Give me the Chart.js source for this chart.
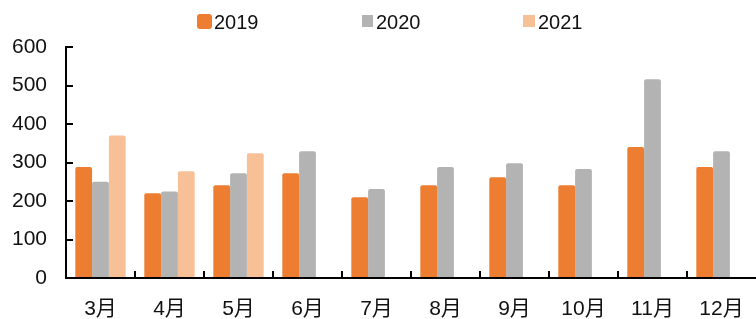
<!DOCTYPE html>
<html>
<head>
<meta charset="utf-8">
<script src="https://cdn.jsdelivr.net/npm/chart.js@4/dist/chart.umd.min.js"></script>
<style>
  html, body { margin: 0; padding: 0; background: #fff; }
  #wrap { width: 756px; height: 319px; position: relative; }
</style>
</head>
<body>
<div id="wrap"><canvas id="c" width="756" height="319"></canvas></div>
<script>
const categories = ['3月', '4月', '5月', '6月', '7月', '8月', '9月', '10月', '11月', '12月'];
const seriesNames = ['2019', '2020', '2021'];
const values2019 = [288, 220, 241, 272, 210, 241, 262, 241, 340, 288];
const values2020 = [250, 225, 272, 329, 231, 288, 298, 283, 516, 329];
const values2021 = [370, 277, 324, null, null, null, null, null, null, null];
const yTicks = [0, 100, 200, 300, 400, 500, 600];

const colors = ['#ED7D31', '#B3B3B3', '#F8C096'];
const FONT = '"Liberation Sans", Arial, "Noto Sans CJK SC", sans-serif';

const axesAndTicks = {
  id: 'axesAndTicks',
  afterDraw(chart) {
    const ctx = chart.ctx, a = chart.chartArea;
    const xs = chart.scales.x, ys = chart.scales.y;
    ctx.save();
    ctx.strokeStyle = '#000';
    ctx.lineWidth = 2;
    ctx.lineCap = 'butt';
    ctx.beginPath();
    const left = Math.round(a.left);
    const bottom = Math.round(a.bottom);
    const top = Math.round(ys.getPixelForValue(600));
    // y axis line
    ctx.moveTo(left, top - 1);
    ctx.lineTo(left, bottom + 1);
    // x axis line
    ctx.moveTo(left - 1, bottom);
    ctx.lineTo(Math.round(a.right), bottom);
    // y ticks (inside)
    yTicks.forEach(v => {
      if (v === 0) return;
      const y = Math.round(ys.getPixelForValue(v));
      ctx.moveTo(left, y);
      ctx.lineTo(left + 7, y);
    });
    // x ticks (inside) at category boundaries
    for (let i = 1; i < categories.length; i++) {
      const x = Math.round((xs.getPixelForValue(i - 1) + xs.getPixelForValue(i)) / 2);
      ctx.moveTo(x, bottom);
      ctx.lineTo(x, bottom - 7);
    }
    ctx.stroke();
    ctx.restore();
  }
};

const customLegend = {
  id: 'customLegend',
  afterDraw(chart, args, opts) {
    const ctx = chart.ctx;
    ctx.save();
    ctx.font = '20px ' + FONT;
    ctx.textBaseline = 'alphabetic';
    chart.data.datasets.forEach((ds, i) => {
      const b = opts.boxes[i];
      ctx.fillStyle = ds.backgroundColor;
      ctx.beginPath();
      if (ctx.roundRect) ctx.roundRect(b.x, b.y, b.w, b.h, b.r); else ctx.rect(b.x, b.y, b.w, b.h);
      ctx.fill();
      ctx.fillStyle = '#111';
      ctx.fillText(ds.label, b.tx, 28.5);
    });
    ctx.restore();
  }
};

new Chart(document.getElementById('c'), {
  type: 'bar',
  data: {
    labels: categories,
    datasets: [
      { label: seriesNames[0], data: values2019, backgroundColor: colors[0] },
      { label: seriesNames[1], data: values2020, backgroundColor: colors[1] },
      { label: seriesNames[2], data: values2021, backgroundColor: colors[2] }
    ]
  },
  options: {
    responsive: false,
    animation: false,
    devicePixelRatio: 1,
    layout: { padding: { top: 47, left: 0, right: 0, bottom: 0 } },
    datasets: { bar: { categoryPercentage: 0.73, barPercentage: 1.0, borderRadius: { topLeft: 2, topRight: 2 }, borderSkipped: 'bottom' } },
    plugins: {
      legend: { display: false },
      tooltip: { enabled: false },
      customLegend: {
        boxes: [
          { x: 197, y: 14, w: 15, h: 15, r: 3, tx: 214 },
          { x: 362, y: 15, w: 11, h: 12, r: 0, tx: 376 },
          { x: 523, y: 15, w: 12, h: 12, r: 0, tx: 538 }
        ]
      }
    },
    scales: {
      x: {
        offset: true,
        grid: { display: false, drawTicks: false },
        border: { display: false },
        ticks: { color: '#111', font: { family: FONT, size: 21 }, padding: 19, maxRotation: 0, autoSkip: false },
        afterFit(s) { s.height = 41; s.paddingLeft = 0; s.paddingRight = 0; }
      },
      y: {
        min: 0, max: 600,
        afterBuildTicks(s) { s.ticks = yTicks.map(v => ({ value: v })); },
        grid: { display: false, drawTicks: false },
        border: { display: false },
        ticks: { color: '#111', font: { family: FONT, size: 21 }, padding: 19 },
        afterFit(s) { s.width = 66; }
      }
    }
  },
  plugins: [axesAndTicks, customLegend]
});
</script>
</body>
</html>
